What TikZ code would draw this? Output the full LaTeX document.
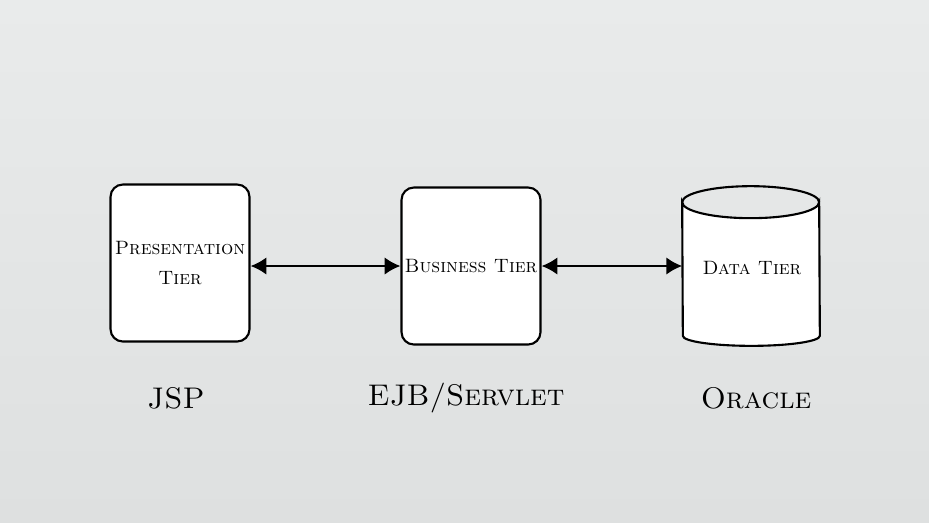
\documentclass[tikz,border=0pt]{standalone}
\usepackage{tikz}
\usetikzlibrary{arrows.meta}

\definecolor{wallgray}{RGB}{222,224,224}
\definecolor{wallgraytop}{RGB}{233,235,235}

\tikzset{
  tiertext/.style={font=\fontsize{11}{17}\selectfont\scshape,align=center,inner sep=0pt},
  tierbox/.style={tiertext,draw=black,fill=white,line width=1.2pt,rounded corners=7pt,
    minimum width=2.78cm,minimum height=3.14cm},
  tierdb/.style={tiertext,minimum width=2.74cm,minimum height=3.18cm},
  dbline/.style={draw=black,fill=white,line width=1.2pt},
  techlabel/.style={font=\fontsize{17}{20}\selectfont\scshape},
  link/.style={line width=1.4pt,{Latex[length=9pt,width=10pt]}-{Latex[length=9pt,width=10pt]}}
}

\begin{document}
\begin{tikzpicture}[x=0.02cm,y=-0.02cm]
  \useasboundingbox (0,0) rectangle (929,522);
  \shade[top color=wallgraytop,bottom color=wallgray] (0,0) rectangle (929,522);
  % tiers
  \node[tierbox] (pres) at (180,263) {Presentation\\Tier};
  \node[tierbox] (bus) at (471,266) {Business Tier};
  \node[tierdb] (data) at (751,266) {};
  \path[dbline] (data.north west) ++(0,16) coordinate (dbtl)
    arc[start angle=180,end angle=360,x radius=68.5,y radius=-16]
    -- ([yshift=0.2cm]data.south east)
    arc[start angle=0,end angle=-180,x radius=68.5,y radius=-10] -- cycle;
  \draw[dbline,fill=none] (dbtl) arc[start angle=180,end angle=0,x radius=68.5,y radius=-16];
  \node[tiertext] (datatxt) at (752,268) {Data Tier};
  % links
  \draw[link] (pres.east |- bus.west) -- (bus.west);
  \draw[link] (bus.east) -- (data.west);
  % technologies
  \node[techlabel] (jsp) at (176,398) {JSP};
  \node[techlabel] (ejb) at (466,398) {EJB/Servlet};
  \node[techlabel] (ora) at (756,398) {Oracle};
\end{tikzpicture}
\end{document}
